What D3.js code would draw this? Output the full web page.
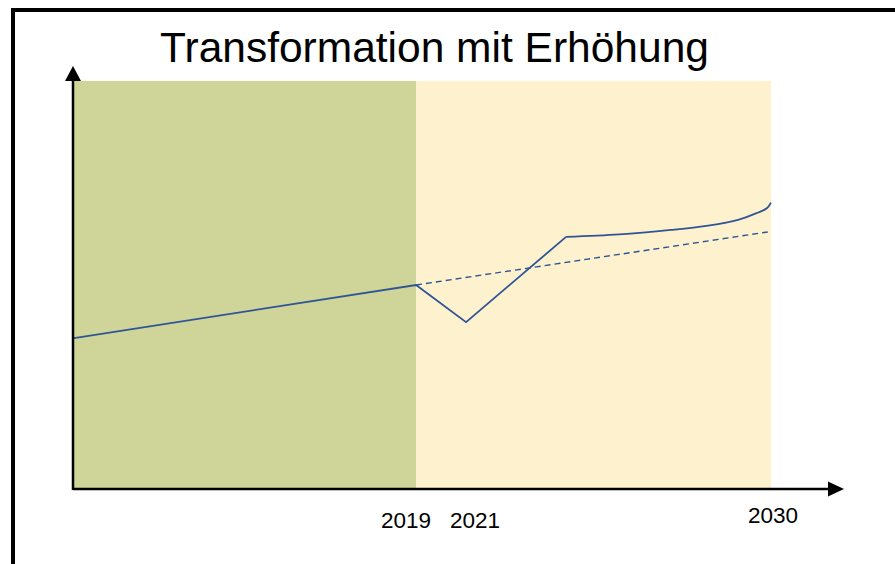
<!DOCTYPE html>
<html>
<head>
<meta charset="utf-8">
<script src="https://cdn.jsdelivr.net/npm/d3@7"></script>
<style>
  body { margin: 0; background: #fff; }
  svg { display: block; font-family: "Liberation Sans", Arial, sans-serif; }
</style>
</head>
<body>
<script>
'use strict';

// schematic series (x = year, y = arbitrary index 0..100)
const titleText = "Transformation mit Erhöhung";
const tickYears = [2019, 2021, 2030];
const tickLabels = ["2019", "2021", "2030"];

const pastYears = [2008.4, 2019];
const pastValues = [37.0, 50.0];

const dipYears = [2019, 2020.55, 2023.65];
const dipValues = [50.0, 40.9, 61.8];

const growthYears = [2023.65, 2025.3, 2026.9, 2028.0, 2028.95, 2029.55, 2029.87, 2030];
const growthValues = [61.8, 62.4, 63.5, 64.5, 65.9, 67.6, 68.8, 70.2];

const trendYears = [2019, 2029.9];
const trendValues = [50.0, 63.0];

const phaseStarts = [2008.4, 2019];
const phaseEnds = [2019, 2030];
const phaseColors = ["#cfd498", "#fef1cd"];

(function () {
  const W = 895, H = 564;
  const svg = d3.select('body').append('svg')
    .attr('width', W)
    .attr('height', H);

  const x = d3.scaleLinear().domain([2008.4, 2030]).range([74, 771]);
  const y = d3.scaleLinear().domain([0, 100]).range([489, 81]);

  // outer frame (runs off the right and bottom edges)
  svg.append('rect')
    .attr('x', 13).attr('y', 10)
    .attr('width', W + 20).attr('height', H + 20)
    .attr('fill', 'none')
    .attr('stroke', '#000')
    .attr('stroke-width', 4);

  // title
  svg.append('text')
    .attr('x', 434.5)
    .attr('y', 62)
    .attr('text-anchor', 'middle')
    .style('font-size', '42.5px')
    .attr('fill', '#000')
    .text(titleText);

  // phase backgrounds
  svg.selectAll('.phase')
    .data(phaseStarts)
    .enter()
    .append('rect')
    .attr('class', 'phase')
    .attr('x', d => x(d))
    .attr('y', y(100))
    .attr('width', (d, i) => x(phaseEnds[i]) - x(d))
    .attr('height', y(0) - y(100))
    .attr('fill', (d, i) => phaseColors[i]);

  const line = d3.line()
    .x(d => x(d[0]))
    .y(d => y(d[1]));
  const curve = d3.line()
    .x(d => x(d[0]))
    .y(d => y(d[1]))
    .curve(d3.curveCatmullRom.alpha(0.5));

  const zip = (a, b) => a.map((v, i) => [v, b[i]]);
  const blue = '#2f5597';

  // dashed trend
  svg.append('path')
    .datum(zip(trendYears, trendValues))
    .attr('d', line)
    .attr('fill', 'none')
    .attr('stroke', blue)
    .attr('stroke-width', 1.4)
    .attr('stroke-dasharray', '6,4');

  svg.append('path')
    .datum(zip(pastYears, pastValues).concat(zip(dipYears, dipValues).slice(1)))
    .attr('d', line)
    .attr('fill', 'none')
    .attr('stroke', blue)
    .attr('stroke-width', 1.8)
    .attr('stroke-linejoin', 'miter');

  svg.append('path')
    .datum(zip(growthYears, growthValues))
    .attr('d', curve)
    .attr('fill', 'none')
    .attr('stroke', blue)
    .attr('stroke-width', 1.8);

  // axes with arrows
  svg.append('line')
    .attr('x1', 73).attr('y1', 489)
    .attr('x2', 830).attr('y2', 489)
    .attr('stroke', '#000').attr('stroke-width', 2.5);
  svg.append('path')
    .attr('d', 'M828,481.5 L844,489 L828,496.5 Z')
    .attr('fill', '#000');

  svg.append('line')
    .attr('x1', 73).attr('y1', 490)
    .attr('x2', 73).attr('y2', 80)
    .attr('stroke', '#000').attr('stroke-width', 2.5);
  svg.append('path')
    .attr('d', 'M65,81 L73,66 L81,81 Z')
    .attr('fill', '#000');

  // tick labels
  const labelDx = [-10, -5.5, 2];
  const labelDy = [0, 0, -5];
  svg.selectAll('.tick-label')
    .data(tickYears)
    .enter()
    .append('text')
    .attr('class', 'tick-label')
    .attr('x', (d, i) => x(d) + labelDx[i])
    .attr('y', (d, i) => 528 + labelDy[i])
    .attr('text-anchor', 'middle')
    .style('font-size', '22.5px')
    .attr('fill', '#000')
    .text((d, i) => tickLabels[i]);
})();
</script>
</body>
</html>
